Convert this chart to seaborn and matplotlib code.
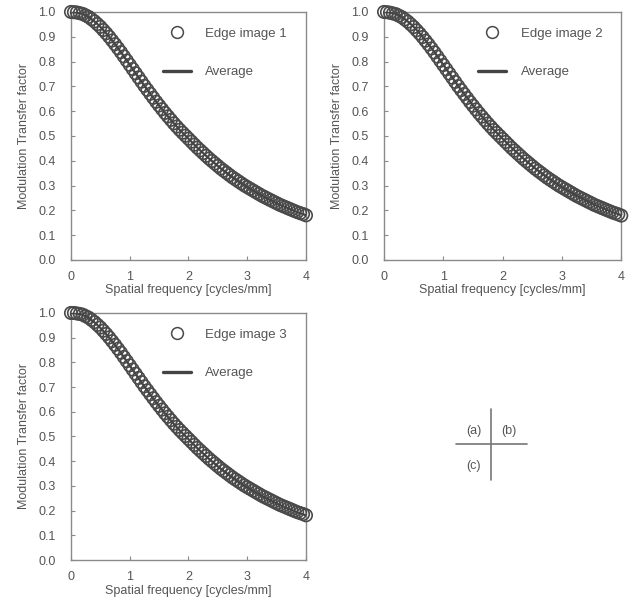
import numpy as np
import pandas as pd
import matplotlib
matplotlib.use("Agg")
import matplotlib.pyplot as plt
import matplotlib.lines as mlines
import seaborn as sns

freq = [0.00, 0.05, 0.10, 0.15, 0.20, 0.25, 0.30, 0.35, 0.40, 0.45,
        0.50, 0.55, 0.60, 0.65, 0.70, 0.75, 0.80, 0.85, 0.90, 0.95,
        1.00, 1.05, 1.10, 1.15, 1.20, 1.25, 1.30, 1.35, 1.40, 1.45,
        1.50, 1.55, 1.60, 1.65, 1.70, 1.75, 1.80, 1.85, 1.90, 1.95,
        2.00, 2.05, 2.10, 2.15, 2.20, 2.25, 2.30, 2.35, 2.40, 2.45,
        2.50, 2.55, 2.60, 2.65, 2.70, 2.75, 2.80, 2.85, 2.90, 2.95,
        3.00, 3.05, 3.10, 3.15, 3.20, 3.25, 3.30, 3.35, 3.40, 3.45,
        3.50, 3.55, 3.60, 3.65, 3.70, 3.75, 3.80, 3.85, 3.90, 3.95, 4.00]

edge1 = [1.000, 0.999, 0.998, 0.995, 0.992, 0.986, 0.980, 0.971, 0.962, 0.951,
         0.940, 0.927, 0.914, 0.900, 0.885, 0.870, 0.854, 0.838, 0.821, 0.804,
         0.787, 0.770, 0.753, 0.736, 0.719, 0.702, 0.686, 0.670, 0.654, 0.638,
         0.623, 0.608, 0.593, 0.579, 0.565, 0.551, 0.538, 0.525, 0.513, 0.501,
         0.489, 0.477, 0.465, 0.453, 0.442, 0.431, 0.420, 0.409, 0.399, 0.389,
         0.379, 0.369, 0.360, 0.351, 0.342, 0.333, 0.325, 0.317, 0.309, 0.301,
         0.294, 0.287, 0.280, 0.273, 0.266, 0.259, 0.253, 0.247, 0.241, 0.235,
         0.229, 0.223, 0.218, 0.213, 0.208, 0.203, 0.198, 0.193, 0.189, 0.185, 0.180]
edge2 = [1.000, 0.999, 0.997, 0.994, 0.991, 0.985, 0.979, 0.970, 0.961, 0.950,
         0.939, 0.926, 0.913, 0.899, 0.884, 0.869, 0.853, 0.837, 0.820, 0.803,
         0.786, 0.769, 0.752, 0.735, 0.718, 0.701, 0.685, 0.669, 0.653, 0.637,
         0.622, 0.607, 0.592, 0.578, 0.564, 0.550, 0.537, 0.524, 0.512, 0.500,
         0.488, 0.476, 0.464, 0.452, 0.441, 0.430, 0.419, 0.408, 0.398, 0.388,
         0.378, 0.368, 0.359, 0.350, 0.341, 0.332, 0.324, 0.316, 0.308, 0.300,
         0.293, 0.286, 0.279, 0.272, 0.265, 0.258, 0.252, 0.246, 0.240, 0.234,
         0.228, 0.222, 0.217, 0.212, 0.207, 0.202, 0.197, 0.192, 0.188, 0.184, 0.179]
edge3 = [1.000, 1.000, 0.998, 0.996, 0.993, 0.987, 0.981, 0.972, 0.963, 0.952,
         0.941, 0.928, 0.915, 0.901, 0.886, 0.871, 0.855, 0.839, 0.822, 0.805,
         0.788, 0.771, 0.754, 0.737, 0.720, 0.703, 0.687, 0.671, 0.655, 0.639,
         0.624, 0.609, 0.594, 0.580, 0.566, 0.552, 0.539, 0.526, 0.514, 0.502,
         0.490, 0.478, 0.466, 0.454, 0.443, 0.432, 0.421, 0.410, 0.400, 0.390,
         0.380, 0.370, 0.361, 0.352, 0.343, 0.334, 0.326, 0.318, 0.310, 0.302,
         0.295, 0.288, 0.281, 0.274, 0.267, 0.260, 0.254, 0.248, 0.242, 0.236,
         0.230, 0.224, 0.219, 0.214, 0.209, 0.204, 0.199, 0.194, 0.190, 0.186, 0.181]

edges = {"Edge image 1": edge1, "Edge image 2": edge2, "Edge image 3": edge3}
average = list(np.mean([edge1, edge2, edge3], axis=0))

sns.set_style("white")
plt.rcParams['font.family'] = ['Liberation Sans', 'DejaVu Sans']
txt = "#555555"
spine = "#8a8a8a"
mark = "#4a4a4a"

fig = plt.figure(figsize=(6.36, 6.07), dpi=100)
boxes = [
    [0.1116, 0.5717, 0.3695, 0.4086],
    [0.6038, 0.5717, 0.3730, 0.4086],
    [0.1116, 0.0774, 0.3695, 0.4070],
]

for (label, vals), box in zip(edges.items(), boxes):
    ax = fig.add_axes(box)
    df = pd.DataFrame({"freq": freq, "mtf": vals, "avg": average})
    sns.scatterplot(data=df, x="freq", y="mtf", ax=ax, marker="o", s=80,
                    facecolor="none", edgecolor=mark, linewidth=1.2,
                    legend=False, zorder=3, clip_on=False)
    sns.lineplot(data=df, x="freq", y="avg", ax=ax, color="#444444",
                 linewidth=1.6, legend=False, zorder=4)
    ax.set_xlim(0, 4)
    ax.set_ylim(0, 1.0)
    ax.set_xticks([0, 1, 2, 3, 4])
    ax.set_yticks(np.arange(0, 1.01, 0.1))
    ax.set_yticklabels([f"{v:.1f}" for v in np.arange(0, 1.01, 0.1)])
    ax.tick_params(direction="in", length=3, colors=spine, labelcolor=txt,
                   labelsize=9, left=True, bottom=True)
    ax.tick_params(axis="y", pad=11)
    ax.tick_params(axis="x", pad=8)
    for s in ax.spines.values():
        s.set_color(spine)
        s.set_linewidth(1.0)
    ax.set_xlabel("Spatial frequency [cycles/mm]", color=txt, fontsize=9, labelpad=1)
    ax.set_ylabel("Modulation Transfer factor", color=txt, fontsize=9, labelpad=6)
    h1 = mlines.Line2D([], [], marker="o", linestyle="none", markerfacecolor="none",
                       markeredgecolor=mark, markersize=8.5, markeredgewidth=1.1)
    h2 = mlines.Line2D([], [], color="#444444", linewidth=2.4)
    ax.legend([h1, h2], [label, "Average"], loc="upper right", frameon=False,
              fontsize=9.5, labelcolor=txt, handlelength=2.1, handletextpad=1.1,
              labelspacing=2.0, bbox_to_anchor=(0.97, 0.985))

# panel key
fig.add_artist(mlines.Line2D([456 / 636, 527 / 636], [1 - 444 / 607, 1 - 444 / 607],
                             color="#777777", linewidth=1.2))
fig.add_artist(mlines.Line2D([491 / 636, 491 / 636], [1 - 409 / 607, 1 - 480 / 607],
                             color="#777777", linewidth=1.2))
fig.text(474 / 636, 1 - 431 / 607, "(a)", ha="center", va="center", fontsize=9, color=txt)
fig.text(509 / 636, 1 - 431 / 607, "(b)", ha="center", va="center", fontsize=9, color=txt)
fig.text(474 / 636, 1 - 466 / 607, "(c)", ha="center", va="center", fontsize=9, color=txt)

fig.savefig("out.png", dpi=100)
